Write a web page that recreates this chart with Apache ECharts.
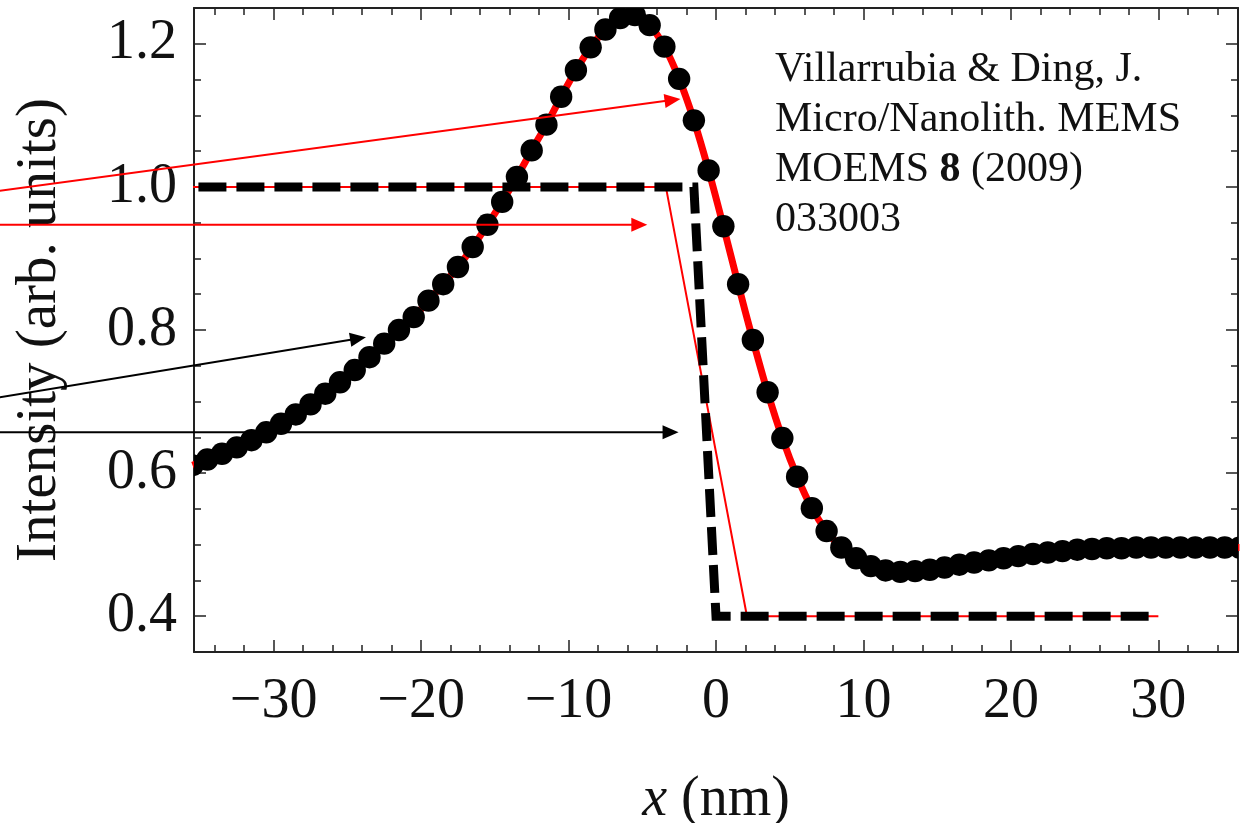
<!DOCTYPE html>
<html><head><meta charset="utf-8">
<script src="https://cdn.jsdelivr.net/npm/echarts@6/dist/echarts.min.js"></script>
<style>html,body{margin:0;padding:0;background:#fff}#c{width:1241px;height:823px}</style>
</head><body><div id="c"></div>
<script>
// ---- data ----
const dotX = [-35.5,-34.5,-33.5,-32.5,-31.5,-30.5,-29.5,-28.5,-27.5,-26.5,-25.5,-24.5,-23.5,-22.5,-21.5,-20.5,-19.5,-18.5,-17.5,-16.5,-15.5,-14.5,-13.5,-12.5,-11.5,-10.5,-9.5,-8.5,-7.5,-6.5,-5.5,-4.5,-3.5,-2.5,-1.5,-0.5,0.5,1.5,2.5,3.5,4.5,5.5,6.5,7.5,8.5,9.5,10.5,11.5,12.5,13.5,14.5,15.5,16.5,17.5,18.5,19.5,20.5,21.5,22.5,23.5,24.5,25.5,26.5,27.5,28.5,29.5,30.5,31.5,32.5,33.5,34.5,35.5];
const dotY = [0.611,0.619,0.627,0.636,0.646,0.657,0.669,0.682,0.696,0.711,0.727,0.744,0.762,0.781,0.800,0.818,0.841,0.864,0.888,0.916,0.947,0.979,1.014,1.051,1.087,1.126,1.163,1.195,1.220,1.236,1.240,1.226,1.196,1.151,1.093,1.023,0.945,0.864,0.786,0.713,0.649,0.595,0.551,0.519,0.496,0.481,0.470,0.464,0.462,0.463,0.465,0.468,0.472,0.475,0.478,0.481,0.484,0.487,0.489,0.491,0.493,0.494,0.495,0.495,0.496,0.496,0.496,0.496,0.496,0.496,0.496,0.496];
const stepBlackX = [-35.1, -1.5, 0.0, 30];
const stepBlackY = [1.0, 1.0, 0.4, 0.4];
const stepRedX = [-36, -3.4, 2.1, 30];
const stepRedY = [1.0, 1.0, 0.4, 0.4];
const arrowsRed = [[-49.8, 0.991, -2.41, 1.123], [-50, 0.947, -4.66, 0.947]];
const arrowsBlack = [[-50, 0.701, -23.74, 0.790], [-50, 0.657, -2.54, 0.657]];
const xMajor = [-30, -20, -10, 0, 10, 20, 30];
const xMinor = [-34,-32,-28,-26,-24,-22,-18,-16,-14,-12,-8,-6,-4,-2,2,4,6,8,12,14,16,18,22,24,26,28,32,34];
const yMajor = [0.4, 0.6, 0.8, 1.0, 1.2];
const yMinor = [0.45,0.5,0.55,0.65,0.7,0.75,0.85,0.9,0.95,1.05,1.1,1.15];
const xRange = [-35.4, 35.4];
const yRange = [0.35, 1.25];
const citation = 'Villarrubia & Ding, J.\nMicro/Nanolith. MEMS\nMOEMS {b|8} (2009)\n033003';

// ---- chart ----
const FONT = 'Liberation Serif';
const chart = echarts.init(document.getElementById('c'), null, {renderer: 'canvas'});
const pairs = (xs, ys) => xs.map((x, i) => [x, ys[i]]);
const lineOn = {show: true, onZero: false, lineStyle: {color: '#222', width: 2}};
const lineOff = {show: false, onZero: false};

function xAx(grid, pos, major, withLabels) {
  const o = {
    type: 'value', gridIndex: grid, position: pos, min: xRange[0], max: xRange[1],
    splitLine: {show: false},
    axisLine: major ? lineOn : lineOff,
    axisTick: {show: true, inside: true, length: major ? 12 : 7, customValues: major ? xMajor : xMinor,
               lineStyle: {color: '#222', width: 1.5}},
    axisLabel: {show: !!withLabels, customValues: xMajor, margin: 22, fontFamily: FONT, fontSize: 56, color: '#111',
               formatter: v => (v < 0 ? '\u2212' + Math.abs(v) : String(v))}
  };
  if (withLabels) {
    o.name = '{i|x} (nm)';
    o.nameLocation = 'middle';
    o.nameGap = 120;
    o.nameTextStyle = {fontFamily: FONT, fontSize: 56, color: '#111',
      rich: {i: {fontStyle: 'italic', fontFamily: FONT, fontSize: 56, color: '#111'}}};
  }
  return o;
}
function yAx(grid, pos, major, withLabels) {
  const o = {
    type: 'value', gridIndex: grid, position: pos, min: yRange[0], max: yRange[1],
    splitLine: {show: false},
    axisLine: major ? lineOn : lineOff,
    axisTick: {show: true, inside: true, length: major ? 12 : 7, customValues: major ? yMajor : yMinor,
               lineStyle: {color: '#222', width: 1.5}},
    axisLabel: {show: !!withLabels, customValues: yMajor, margin: 17, fontFamily: FONT, fontSize: 56, color: '#111',
               formatter: v => v.toFixed(1)}
  };
  if (withLabels) {
    o.name = 'Intensity (arb. units)';
    o.nameLocation = 'middle';
    o.nameGap = 125;
    o.nameTextStyle = {fontFamily: FONT, fontSize: 57, color: '#111'};
  }
  return o;
}

function arrowSeries(list, color) {
  return {
    type: 'custom', xAxisIndex: 0, yAxisIndex: 0, clip: false, z: 20, silent: true,
    data: list, encode: {x: [0, 2], y: [1, 3]},
    renderItem(params, api) {
      const a = api.coord([api.value(0), api.value(1)]);
      const b = api.coord([api.value(2), api.value(3)]);
      const ang = Math.atan2(b[1] - a[1], b[0] - a[0]);
      const L = 16, W = 7;
      const bx = b[0] - L * Math.cos(ang), by = b[1] - L * Math.sin(ang);
      const nx = -Math.sin(ang), ny = Math.cos(ang);
      return {type: 'group', children: [
        {type: 'line', shape: {x1: a[0], y1: a[1], x2: bx + 2 * Math.cos(ang), y2: by + 2 * Math.sin(ang)}, style: {stroke: color, lineWidth: 2}},
        {type: 'polygon', shape: {points: [[b[0], b[1]], [bx + nx * W, by + ny * W], [bx - nx * W, by - ny * W]]}, style: {fill: color}}
      ]};
    }
  };
}

const gridRect = {left: 194, top: 8, right: 3, bottom: 171, containLabel: false, outerBoundsMode: 'none', show: false};

chart.setOption({
  animation: false,
  backgroundColor: '#fff',
  grid: [Object.assign({}, gridRect), Object.assign({}, gridRect)],
  xAxis: [xAx(0, 'bottom', true, true), xAx(0, 'top', true, false), xAx(1, 'bottom', false, false), xAx(1, 'top', false, false)],
  yAxis: [yAx(0, 'left', true, true), yAx(0, 'right', true, false), yAx(1, 'left', false, false), yAx(1, 'right', false, false)],
  series: [
    {type: 'line', xAxisIndex: 0, yAxisIndex: 0, data: pairs(stepRedX, stepRedY), showSymbol: false, clip: true, z: 2,
     lineStyle: {color: '#ff0000', width: 2}},
    {type: 'line', xAxisIndex: 0, yAxisIndex: 0, data: pairs(dotX, dotY), showSymbol: false, smooth: 0.3, clip: true, z: 3,
     lineStyle: {color: '#ff0000', width: 7}},
    {type: 'line', xAxisIndex: 0, yAxisIndex: 0, data: pairs(stepBlackX, stepBlackY), showSymbol: false, clip: true, z: 4,
     lineStyle: {color: '#000', width: 9, type: [28, 10], cap: 'butt', join: 'miter'}},
    {type: 'custom', xAxisIndex: 0, yAxisIndex: 0, clip: true, z: 5, silent: true,
     data: pairs(dotX, dotY), encode: {x: 0, y: 1},
     renderItem(params, api) {
       const p = api.coord([api.value(0), api.value(1)]);
       return {type: 'circle', shape: {cx: p[0], cy: p[1], r: 11.2}, style: {fill: '#000'}};
     }},
    arrowSeries(arrowsRed, '#ff0000'),
    arrowSeries(arrowsBlack, '#000000')
  ],
  graphic: [{
    type: 'text', left: 775, top: 45, z: 30,
    style: {text: citation, fontFamily: FONT, fontSize: 42, lineHeight: 50, fill: '#111',
      rich: {b: {fontWeight: 'bold', fontFamily: FONT, fontSize: 42, lineHeight: 50, fill: '#111'}}}
  }]
});
</script></body></html>
